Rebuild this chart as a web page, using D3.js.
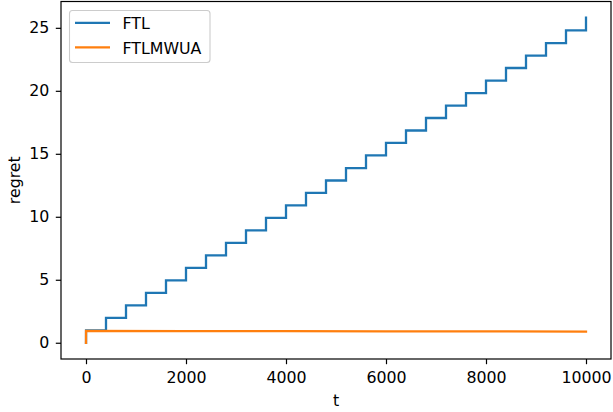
<!DOCTYPE html>
<html>
<head>
<meta charset="utf-8">
<script src="https://cdn.jsdelivr.net/npm/d3@7"></script>
<style>
  body { margin: 0; background: #fff; }
  svg { display: block; font-family: "DejaVu Sans", sans-serif; }
</style>
</head>
<body>
<svg id="chart" width="613" height="412"></svg>
<script>
// ---- Data ----
const seriesNames = ["FTL", "FTLMWUA"];
const ftlT = [0, 1, 400, 800, 1200, 1600, 2000, 2400, 2800, 3200, 3600, 4000, 4400, 4800, 5200, 5600, 6000, 6400, 6800, 7200, 7600, 8000, 8400, 8800, 9200, 9600, 10000];
const ftlRegret = [0, 0.98, 1.98, 2.97, 3.96, 4.95, 5.94, 6.93, 7.93, 8.92, 9.91, 10.90, 11.89, 12.88, 13.87, 14.87, 15.86, 16.85, 17.84, 18.83, 19.82, 20.81, 21.81, 22.80, 23.79, 24.80, 25.80];
const mwuaT = [0, 1, 2000, 4000, 6000, 8000, 10000];
const mwuaRegret = [0, 0.94, 0.93, 0.92, 0.91, 0.90, 0.88];
const xTicks = [0, 2000, 4000, 6000, 8000, 10000];
const yTicks = [0, 5, 10, 15, 20, 25];
const colors = ["#1f77b4", "#ff7f0e"];

// ---- Layout ----
const svg = d3.select("#chart");
const L = 61, R = 611, T = 1.5, B = 359;
const fs = "15.8px";

const x = d3.scaleLinear().domain([-500, 10500]).range([L, R]);
const y = d3.scaleLinear().domain([-1.29, 27.09]).range([B, T]);

const line = d3.line().x(d => x(d[0])).y(d => y(d[1])).curve(d3.curveStepAfter);
const lineLin = d3.line().x(d => x(d[0])).y(d => y(d[1]));

const ftlData = ftlT.map((t, i) => [t, ftlRegret[i]]);
const mwuaData = mwuaT.map((t, i) => [t, mwuaRegret[i]]);

svg.append("clipPath").attr("id", "clip").append("rect")
  .attr("x", L).attr("y", T).attr("width", R - L).attr("height", B - T);

const plot = svg.append("g").attr("clip-path", "url(#clip)");
plot.append("path").datum(ftlData).attr("d", line)
  .attr("fill", "none").attr("stroke", colors[0]).attr("stroke-width", 2.3)
  .attr("stroke-linejoin", "miter").attr("stroke-linecap", "square");
plot.append("path").datum(mwuaData).attr("d", lineLin)
  .attr("fill", "none").attr("stroke", colors[1]).attr("stroke-width", 2.3)
  .attr("stroke-linecap", "square");

// axes
const xAxis = d3.axisBottom(x).tickValues(xTicks).tickSize(5.2).tickPadding(7.3).tickFormat(d3.format("d"));
const yAxis = d3.axisLeft(y).tickValues(yTicks).tickSize(5.2).tickPadding(6.5).tickFormat(d3.format("d"));

const gx = svg.append("g").attr("transform", `translate(0,${B})`).call(xAxis);
const gy = svg.append("g").attr("transform", `translate(${L},0)`).call(yAxis);
[gx, gy].forEach(g => {
  g.attr("font-size", null).attr("font-family", null);
  g.select(".domain").remove();
  g.selectAll(".tick line").attr("stroke", "#000").attr("stroke-width", 1.2);
  g.selectAll(".tick text").attr("fill", "#000").style("font-size", fs).style("font-family", "DejaVu Sans");
});

// spines
svg.append("rect").attr("x", L).attr("y", T).attr("width", R - L).attr("height", B - T)
  .attr("fill", "none").attr("stroke", "#000").attr("stroke-width", 1.2);

// axis labels
svg.append("text").attr("x", (L + R) / 2).attr("y", 406).attr("text-anchor", "middle")
  .style("font-size", fs).text("t");
svg.append("text").attr("transform", `translate(19.5,${(T + B) / 2}) rotate(-90)`)
  .attr("text-anchor", "middle").style("font-size", fs).text("regret");

// legend
const lg = svg.append("g");
lg.append("rect").attr("x", 69.5).attr("y", 10.5).attr("width", 140.5).attr("height", 52)
  .attr("rx", 3).attr("fill", "#fff").attr("fill-opacity", 0.8)
  .attr("stroke", "#ccc").attr("stroke-width", 1.1);
seriesNames.forEach((n, i) => {
  const yy = 22.8 + i * 24.6;
  lg.append("line").attr("x1", 75).attr("x2", 110).attr("y1", yy).attr("y2", yy)
    .attr("stroke", colors[i]).attr("stroke-width", 2.3);
  lg.append("text").attr("x", 122.5).attr("y", yy + 6.2).style("font-size", fs).text(n);
});
</script>
</body>
</html>
